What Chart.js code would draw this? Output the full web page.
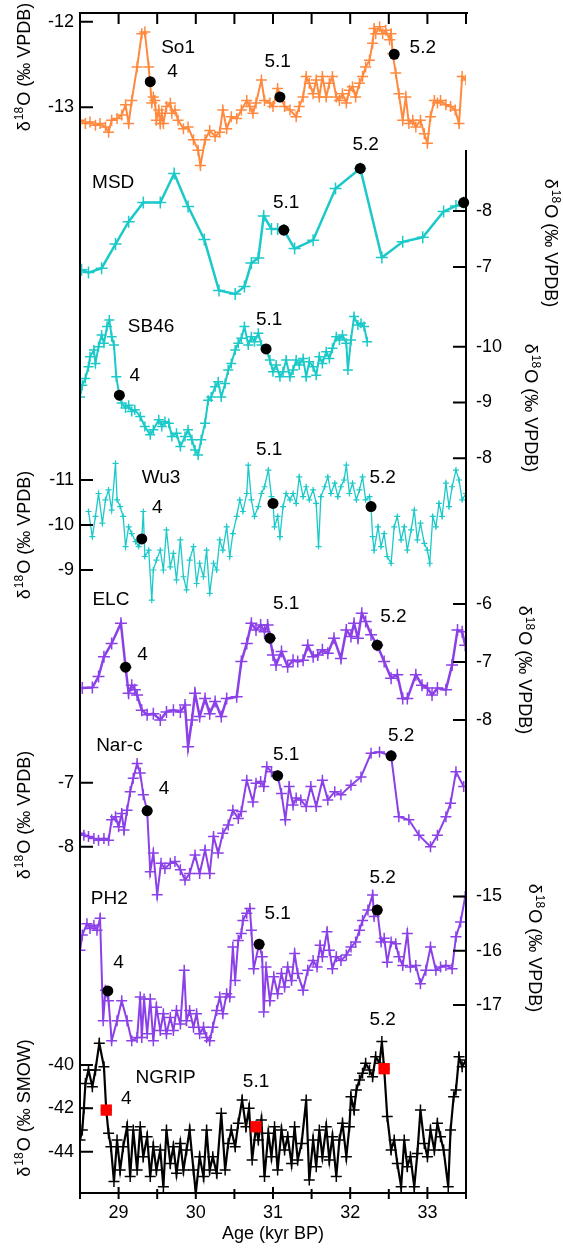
<!DOCTYPE html>
<html>
<head>
<meta charset="utf-8">
<script src="https://cdn.jsdelivr.net/npm/chart.js@4"></script>
<style>
body { margin: 0; background: #fff; }
#wrap { width: 563px; height: 1250px; }
</style>
</head>
<body>
<div id="wrap"><canvas id="chart" width="563" height="1250"></canvas></div>
<script>
// ages in kyr BP, values in per mil
const so1Age = [28.50,28.57,28.63,28.70,28.76,28.83,28.87,28.91,28.98,29.04,29.09,29.13,29.17,29.24,29.30,29.34,29.39,29.43,29.45,29.47,29.49,29.52,29.54,29.56,29.58,29.62,29.67,29.69,29.73,29.77,29.84,29.90,29.97,30.03,30.06,30.12,30.18,30.25,30.31,30.35,30.40,30.46,30.53,30.59,30.66,30.70,30.74,30.78,30.85,30.89,30.96,31.00,31.06,31.15,31.22,31.30,31.34,31.39,31.43,31.47,31.52,31.56,31.60,31.64,31.69,31.73,31.77,31.82,31.86,31.90,31.95,31.99,32.03,32.07,32.12,32.16,32.20,32.25,32.29,32.31,32.33,32.38,32.42,32.46,32.51,32.53,32.55,32.59,32.63,32.68,32.72,32.76,32.81,32.85,32.91,32.96,33.00,33.04,33.09,33.13,33.17,33.24,33.30,33.36,33.41,33.45,33.50];
const so1Val = [-13.15,-13.19,-13.17,-13.21,-13.19,-13.23,-13.29,-13.15,-13.13,-13.09,-12.97,-13.19,-12.92,-12.53,-12.14,-12.12,-12.53,-12.95,-12.88,-12.92,-13.15,-13.03,-13.19,-13.07,-13.19,-12.99,-12.95,-13.07,-13.03,-13.15,-13.25,-13.23,-13.38,-13.50,-13.68,-13.38,-13.27,-13.34,-13.29,-13.03,-13.25,-13.11,-13.13,-13.03,-12.92,-12.99,-13.07,-12.95,-12.68,-12.92,-12.95,-12.99,-12.78,-12.99,-13.03,-13.11,-12.99,-12.88,-12.64,-12.72,-12.84,-12.68,-12.88,-12.64,-12.88,-12.72,-12.64,-12.88,-12.92,-12.84,-12.95,-12.80,-12.76,-12.88,-12.72,-12.64,-12.53,-12.45,-12.25,-12.08,-12.14,-12.06,-12.14,-12.10,-12.21,-12.14,-12.37,-12.60,-12.84,-13.15,-12.88,-13.19,-13.15,-13.23,-13.15,-13.31,-13.42,-13.11,-12.92,-12.95,-12.92,-12.97,-12.99,-13.03,-13.19,-12.64,-12.68];
const so1DotAge = [29.41, 31.09, 32.57];
const so1DotVal = [-12.70, -12.88, -12.38];

const msdAge = [28.52,28.61,28.78,28.96,29.13,29.32,29.54,29.72,29.90,30.11,30.30,30.51,30.63,30.72,30.81,30.88,30.98,31.06,31.14,31.28,31.52,31.81,32.13,32.41,32.68,32.94,33.21,33.37,33.47];
const msdVal = [-6.95,-6.90,-6.98,-7.41,-7.81,-8.15,-8.15,-8.67,-8.08,-7.49,-6.58,-6.52,-6.65,-7.07,-7.16,-7.91,-7.68,-7.68,-7.66,-7.33,-7.48,-8.40,-8.76,-7.17,-7.45,-7.53,-7.99,-8.09,-8.15];
const msdDotAge = [31.14, 32.13, 33.47];
const msdDotVal = [-7.66, -8.76, -8.15];

const sb46Age = [28.50,28.53,28.57,28.61,28.63,28.68,28.70,28.74,28.78,28.81,28.85,28.88,28.91,28.94,28.97,29.01,29.04,29.09,29.13,29.17,29.21,29.28,29.34,29.41,29.45,29.52,29.56,29.60,29.65,29.69,29.75,29.80,29.86,29.90,29.95,29.99,30.03,30.07,30.12,30.16,30.20,30.25,30.29,30.33,30.38,30.42,30.46,30.51,30.55,30.59,30.63,30.68,30.72,30.76,30.81,30.85,30.91,30.96,31.00,31.04,31.09,31.13,31.17,31.22,31.26,31.30,31.34,31.39,31.43,31.47,31.52,31.56,31.60,31.64,31.69,31.73,31.77,31.82,31.86,31.90,31.95,31.97,32.01,32.05,32.10,32.14,32.18,32.22];
const sb46Val = [-9.10,-9.31,-9.43,-9.64,-9.82,-9.94,-9.70,-10.00,-10.21,-10.06,-10.36,-10.48,-10.18,-10.03,-9.46,-9.13,-8.99,-8.90,-8.95,-8.84,-8.87,-8.75,-8.57,-8.42,-8.51,-8.69,-8.57,-8.66,-8.63,-8.39,-8.45,-8.21,-8.39,-8.51,-8.33,-8.15,-8.06,-8.33,-8.63,-9.04,-9.10,-9.28,-9.37,-9.10,-9.34,-9.58,-9.70,-9.94,-10.06,-10.15,-10.36,-10.03,-10.18,-10.09,-10.24,-10.03,-9.96,-9.76,-9.55,-9.67,-9.46,-9.55,-9.76,-9.46,-9.58,-9.76,-9.67,-9.79,-9.46,-9.73,-9.64,-9.49,-9.82,-9.70,-9.91,-9.79,-9.97,-10.18,-10.12,-10.21,-10.06,-9.58,-10.12,-10.54,-10.39,-10.42,-10.36,-10.09];
const sb46DotAge = [29.01, 30.91];
const sb46DotVal = [-9.13, -9.96];

const wu3Age = [28.61,28.66,28.70,28.74,28.79,28.83,28.87,28.91,28.96,28.98,29.02,29.06,29.09,29.13,29.17,29.22,29.26,29.30,29.32,29.34,29.39,29.43,29.45,29.49,29.54,29.58,29.62,29.67,29.71,29.75,29.80,29.84,29.88,29.92,29.97,30.01,30.05,30.10,30.14,30.18,30.23,30.27,30.31,30.35,30.40,30.44,30.48,30.53,30.57,30.61,30.66,30.68,30.72,30.76,30.81,30.85,30.89,30.94,30.98,31.00,31.02,31.06,31.09,31.13,31.17,31.22,31.26,31.30,31.34,31.39,31.43,31.47,31.52,31.56,31.59,31.62,31.67,31.71,31.75,31.80,31.84,31.88,31.92,31.95,31.99,32.03,32.08,32.12,32.16,32.20,32.25,32.27,32.29,32.31,32.36,32.40,32.44,32.48,32.53,32.57,32.61,32.66,32.70,32.74,32.79,32.83,32.87,32.91,32.96,33.00,33.03,33.07,33.11,33.15,33.19,33.24,33.28,33.32,33.37,33.41,33.45,33.50];
const wu3Val = [-10.30,-9.74,-10.19,-10.70,-10.04,-10.56,-10.78,-10.33,-11.37,-10.56,-10.41,-10.19,-9.52,-9.96,-9.81,-9.63,-9.52,-9.69,-10.30,-9.30,-9.44,-8.33,-9.00,-9.22,-9.44,-9.00,-9.89,-9.07,-9.37,-8.78,-9.67,-8.85,-8.56,-9.22,-9.52,-8.70,-9.15,-8.85,-9.44,-8.48,-9.15,-9.00,-9.67,-9.44,-9.96,-9.30,-9.81,-10.19,-10.56,-10.30,-10.70,-11.33,-10.56,-10.19,-10.41,-10.70,-10.85,-11.22,-10.63,-10.48,-9.96,-10.19,-9.74,-10.41,-10.70,-10.56,-10.70,-10.48,-11.07,-10.63,-10.85,-10.56,-10.78,-10.48,-9.52,-10.63,-10.85,-11.07,-10.70,-10.93,-10.63,-10.85,-11.00,-11.33,-10.70,-10.93,-10.56,-10.78,-11.07,-10.56,-10.63,-10.41,-9.74,-9.44,-9.96,-9.52,-9.81,-9.30,-9.15,-9.96,-10.19,-9.67,-9.96,-9.44,-9.89,-10.33,-9.67,-10.04,-9.59,-9.44,-9.15,-10.19,-9.96,-10.48,-10.19,-10.93,-10.41,-10.85,-11.22,-11.00,-10.56,-10.70];
const wu3DotAge = [29.30, 31.00, 32.27];
const wu3DotVal = [-9.69, -10.48, -10.41];

const elcAge = [28.53,28.66,28.74,28.81,28.91,29.03,29.09,29.13,29.17,29.21,29.24,29.30,29.37,29.45,29.54,29.62,29.71,29.80,29.86,29.90,29.95,29.99,30.05,30.12,30.18,30.25,30.33,30.40,30.53,30.59,30.66,30.72,30.78,30.84,30.89,30.93,30.96,31.00,31.04,31.11,31.19,31.26,31.32,31.39,31.45,31.52,31.58,31.64,31.71,31.79,31.88,31.95,32.01,32.05,32.10,32.15,32.20,32.27,32.35,32.44,32.53,32.61,32.68,32.74,32.85,32.93,33.00,33.06,33.13,33.24,33.32,33.39,33.45,33.49];
const elcVal = [-7.45,-7.44,-7.25,-6.91,-6.68,-6.33,-7.09,-7.54,-7.40,-7.48,-7.57,-7.83,-7.91,-7.89,-8.00,-7.86,-7.83,-7.86,-7.74,-8.46,-8.00,-7.54,-7.94,-7.63,-7.89,-7.68,-7.94,-7.63,-7.60,-6.99,-6.68,-6.33,-6.45,-6.36,-6.48,-6.36,-6.59,-6.88,-7.05,-6.82,-7.08,-6.97,-6.99,-6.97,-6.71,-6.91,-6.88,-6.79,-6.85,-6.59,-6.94,-6.45,-6.56,-6.33,-6.59,-6.16,-6.30,-6.53,-6.71,-6.99,-7.28,-7.22,-7.63,-7.63,-7.22,-7.40,-7.45,-7.57,-7.45,-7.48,-7.05,-6.45,-6.48,-6.71];
const elcDotAge = [29.09, 30.96, 32.35];
const elcDotVal = [-7.09, -6.59, -6.71];

const narAge = [28.50,28.55,28.61,28.68,28.74,28.81,28.87,28.91,28.96,29.00,29.04,29.07,29.11,29.15,29.19,29.24,29.28,29.32,29.37,29.41,29.45,29.50,29.55,29.60,29.67,29.73,29.80,29.86,29.92,29.99,30.05,30.12,30.18,30.23,30.29,30.35,30.42,30.48,30.55,30.59,30.66,30.74,30.78,30.84,30.88,30.92,30.98,31.06,31.11,31.16,31.21,31.26,31.30,31.36,31.43,31.49,31.56,31.64,31.71,31.80,31.88,32.01,32.14,32.27,32.38,32.53,32.63,32.76,32.89,33.04,33.13,33.24,33.30,33.37,33.47];
const narVal = [-7.79,-7.82,-7.84,-7.87,-7.90,-7.87,-7.90,-7.58,-7.53,-7.69,-7.48,-7.74,-7.43,-7.14,-6.93,-6.70,-6.85,-7.19,-7.44,-8.39,-8.10,-8.75,-8.26,-8.34,-8.26,-8.23,-8.36,-8.52,-8.42,-8.13,-8.42,-8.05,-8.42,-7.84,-8.10,-7.79,-7.66,-7.43,-7.56,-7.45,-6.96,-7.30,-7.01,-6.98,-7.06,-6.75,-6.83,-6.89,-7.17,-7.58,-7.06,-7.35,-7.24,-7.27,-7.37,-7.06,-7.37,-6.96,-7.27,-7.14,-7.19,-7.04,-6.91,-6.54,-6.52,-6.58,-7.53,-7.58,-7.82,-8.00,-7.82,-7.53,-7.32,-6.83,-7.06];
const narDotAge = [29.37, 31.06, 32.53];
const narDotVal = [-7.44, -6.89, -6.58];

const ph2Age = [28.50,28.53,28.59,28.63,28.68,28.72,28.76,28.80,28.83,28.87,28.91,28.98,29.04,29.11,29.17,29.24,29.28,29.30,29.33,29.37,29.41,29.45,29.49,29.54,29.58,29.62,29.67,29.71,29.75,29.80,29.85,29.88,29.92,29.97,30.01,30.05,30.10,30.14,30.18,30.22,30.27,30.31,30.35,30.40,30.44,30.48,30.51,30.55,30.59,30.61,30.66,30.70,30.72,30.75,30.82,30.86,30.88,30.91,30.96,31.01,31.06,31.11,31.15,31.19,31.24,31.28,31.32,31.39,31.45,31.52,31.57,31.61,31.64,31.70,31.73,31.77,31.82,31.88,31.95,32.01,32.07,32.12,32.16,32.23,32.29,32.31,32.35,32.40,32.44,32.48,32.53,32.59,32.63,32.68,32.74,32.78,32.85,32.91,32.98,33.04,33.11,33.17,33.24,33.32,33.37,33.43,33.49];
const ph2Val = [-15.99,-15.71,-15.50,-15.59,-15.53,-15.62,-15.40,-17.29,-16.73,-16.92,-17.66,-17.29,-16.92,-17.29,-17.66,-17.60,-16.85,-17.60,-16.89,-17.53,-16.89,-17.66,-17.04,-17.47,-17.16,-17.53,-17.23,-17.47,-17.10,-17.35,-16.36,-17.29,-17.10,-17.41,-17.16,-17.53,-17.41,-17.60,-17.66,-17.41,-17.10,-16.85,-17.16,-16.79,-16.85,-15.93,-16.55,-15.81,-15.68,-15.44,-15.31,-15.22,-15.62,-16.33,-15.88,-16.11,-17.13,-16.30,-16.92,-16.48,-16.79,-16.42,-16.67,-16.30,-16.55,-16.05,-16.42,-16.73,-16.36,-16.18,-16.30,-15.90,-16.11,-15.65,-15.99,-16.33,-16.11,-16.18,-16.08,-15.93,-15.84,-15.62,-15.44,-15.25,-14.97,-15.37,-15.25,-15.84,-15.77,-16.21,-15.84,-15.87,-16.11,-16.27,-15.68,-16.30,-16.27,-16.61,-16.36,-15.93,-16.36,-16.30,-16.27,-16.33,-15.74,-15.47,-15.00];
const ph2DotAge = [28.86, 30.82, 32.35];
const ph2DotVal = [-16.74, -15.88, -15.25];

const ngripAge = [28.50,28.53,28.55,28.57,28.61,28.66,28.70,28.75,28.81,28.84,28.87,28.90,28.94,28.98,29.02,29.06,29.11,29.15,29.19,29.24,29.28,29.32,29.37,29.41,29.45,29.49,29.54,29.58,29.62,29.67,29.71,29.75,29.80,29.84,29.88,29.92,29.97,30.00,30.05,30.10,30.14,30.18,30.22,30.27,30.33,30.38,30.42,30.46,30.51,30.55,30.60,30.65,30.69,30.73,30.78,30.81,30.85,30.89,30.94,30.98,31.02,31.06,31.11,31.15,31.19,31.24,31.28,31.32,31.37,31.43,31.47,31.52,31.56,31.60,31.64,31.69,31.73,31.77,31.82,31.86,31.90,31.95,31.99,32.01,32.05,32.08,32.12,32.16,32.20,32.25,32.29,32.33,32.38,32.41,32.44,32.48,32.53,32.57,32.61,32.66,32.70,32.74,32.78,32.83,32.87,32.91,32.96,33.00,33.04,33.09,33.13,33.17,33.21,33.27,33.30,33.34,33.37,33.41,33.45,33.50];
const ngripVal = [-43.46,-43.00,-42.00,-40.85,-40.23,-41.00,-40.23,-39.00,-40.08,-42.08,-43.15,-43.77,-45.38,-43.46,-44.85,-43.77,-42.85,-45.15,-43.00,-44.85,-42.85,-44.23,-43.31,-45.15,-43.77,-44.85,-43.92,-45.62,-43.00,-44.54,-43.77,-45.00,-43.62,-44.85,-43.92,-43.00,-44.85,-45.92,-44.23,-45.15,-43.00,-44.85,-44.23,-45.00,-42.23,-44.85,-43.62,-43.00,-43.77,-42.69,-41.62,-42.85,-42.00,-44.38,-42.85,-43.46,-42.54,-45.15,-43.15,-44.23,-42.85,-44.85,-43.00,-43.92,-43.31,-44.54,-42.85,-44.38,-43.62,-41.62,-45.31,-43.46,-44.69,-43.00,-44.23,-42.85,-44.38,-43.31,-45.15,-43.46,-42.69,-44.23,-42.85,-41.46,-42.08,-41.15,-40.69,-40.38,-39.92,-40.23,-40.54,-39.62,-39.92,-38.92,-40.17,-42.38,-43.92,-43.46,-44.54,-45.62,-43.46,-44.69,-44.23,-45.62,-44.08,-42.08,-43.62,-44.23,-43.00,-43.92,-42.69,-43.31,-43.92,-45.62,-43.00,-41.46,-41.15,-39.62,-40.08,-39.77];
const ngripSqAge = [28.84, 30.78, 32.44];
const ngripSqVal = [-42.08, -42.85, -40.17];

// x axis ticks
const ageTicks = [29, 30, 31, 32, 33];

// event labels: [text, age, value] on each record's own axis
const so1Labels = [['So1', 29.77, -12.30], ['4', 29.70, -12.58], ['5.1', 31.06, -12.47], ['5.2', 32.94, -12.30]];
const msdLabels = [['MSD', 28.93, -8.51], ['5.1', 31.17, -8.14], ['5.2', 32.20, -9.18]];
const sb46Labels = [['SB46', 29.42, -10.36], ['4', 29.21, -9.47], ['5.1', 30.95, -10.49]];
const wu3Labels = [['Wu3', 29.55, -11.04], ['4', 29.50, -10.39], ['5.1', 30.95, -11.67], ['5.2', 32.42, -11.04]];
const elcLabels = [['ELC', 28.90, -5.93], ['4', 29.31, -6.88], ['5.1', 31.17, -5.99], ['5.2', 32.56, -6.22]];
const narLabels = [['Nar-c', 29.01, -6.43], ['4', 29.59, -7.09], ['5.1', 31.17, -6.57], ['5.2', 32.66, -6.27]];
const ph2Labels = [['PH2', 28.88, -15.05], ['4', 29.00, -16.23], ['5.1', 31.06, -15.31], ['5.2', 32.42, -14.65]];
const ngripLabels = [['NGRIP', 29.61, -40.57], ['4', 29.10, -41.54], ['5.1', 30.78, -40.77], ['5.2', 32.42, -37.92]];

const FONT = '"Liberation Sans", Arial, Helvetica, sans-serif';
const ORANGE = '#ff8a3f';
const CYAN = '#1cc9c9';
const PURPLE = '#8b40e8';

function pts(ages, vals) {
  return ages.map(function (a, i) { return { x: a, y: vals[i] }; });
}

function series(ages, vals, axis, color, width, radius) {
  return {
    data: pts(ages, vals),
    yAxisID: axis,
    order: 2,
    showLine: true,
    borderColor: color,
    backgroundColor: color,
    borderWidth: width,
    pointStyle: 'cross',
    pointRadius: radius,
    pointBorderWidth: width > 1.4 ? 1.5 : 1.2,
    pointBorderColor: color,
    tension: 0
  };
}

// black event dots (red squares for NGRIP), drawn above the lines
function dots(ages, vals, axis, style, color, radius) {
  return {
    data: pts(ages, vals),
    yAxisID: axis,
    order: 1,
    showLine: false,
    pointStyle: style,
    pointRadius: radius,
    pointBackgroundColor: color,
    pointBorderColor: color,
    pointBorderWidth: 0,
    clip: false
  };
}

// one entry per record: axis, side of its ticks, tick values, title position
const panels = [
  { axis: 'ySo1', side: 'left', ticks: [-12, -13], unit: 'VPDB', tx: 24, ty: 67, labels: so1Labels },
  { axis: 'yMSD', side: 'right', ticks: [-8, -7], unit: 'VPDB', tx: 551, ty: 243, labels: msdLabels },
  { axis: 'ySB46', side: 'right', ticks: [-10, -9, -8], unit: 'VPDB', tx: 531, ty: 408, labels: sb46Labels },
  { axis: 'yWu3', side: 'left', ticks: [-11, -10, -9], unit: 'VPDB', tx: 24, ty: 535, labels: wu3Labels },
  { axis: 'yELC', side: 'right', ticks: [-6, -7, -8], unit: 'VPDB', tx: 525, ty: 670, labels: elcLabels },
  { axis: 'yNar', side: 'left', ticks: [-7, -8], unit: 'VPDB', tx: 24, ty: 815, labels: narLabels },
  { axis: 'yPH2', side: 'right', ticks: [-15, -16, -17], unit: 'VPDB', tx: 535, ty: 948, labels: ph2Labels },
  { axis: 'yNG', side: 'left', ticks: [-40, -42, -44], unit: 'SMOW', tx: 24, ty: 1108, labels: ngripLabels }
];

function drawTitle(ctx, unit, x, y, angle) {
  var rest = 'O (\u2030 ' + unit + ')';
  ctx.save();
  ctx.translate(x, y);
  ctx.rotate(angle);
  ctx.font = '18px ' + FONT;
  var w1 = ctx.measureText('\u03b4').width;
  var w3 = ctx.measureText(rest).width;
  ctx.font = '12px ' + FONT;
  var w2 = ctx.measureText('18').width;
  var start = -(w1 + w2 + w3 + 2) / 2;
  ctx.textAlign = 'left';
  ctx.textBaseline = 'alphabetic';
  ctx.fillStyle = '#000';
  ctx.font = '18px ' + FONT;
  ctx.fillText('\u03b4', start, 6);
  ctx.font = '12px ' + FONT;
  ctx.fillText('18', start + w1 + 1, -1);
  ctx.font = '18px ' + FONT;
  ctx.fillText(rest, start + w1 + w2 + 2, 6);
  ctx.restore();
}

// frame, ticks, titles and event labels
const panelAxes = {
  id: 'panelAxes',
  afterDraw: function (chart) {
    var ctx = chart.ctx, xs = chart.scales.x, area = chart.chartArea;
    ctx.save();
    ctx.strokeStyle = '#000';
    ctx.fillStyle = '#000';
    ctx.lineWidth = 2;
    ctx.lineCap = 'butt';

    ctx.beginPath();
    ctx.moveTo(area.left, area.top);
    ctx.lineTo(area.right + 2, area.top);
    ctx.moveTo(area.left, area.top - 1);
    ctx.lineTo(area.left, area.bottom);
    ctx.lineTo(area.right, area.bottom);
    ctx.moveTo(area.right, 150);
    ctx.lineTo(area.right, area.bottom);
    ctx.stroke();

    // top and bottom age ticks every 0.5 kyr
    ctx.beginPath();
    for (var a = 28.5; a <= 33.5001; a += 0.5) {
      var px = xs.getPixelForValue(a);
      ctx.moveTo(px, area.top);
      ctx.lineTo(px, area.top + 11);
      var major = Math.abs(a - Math.round(a)) < 0.01;
      ctx.moveTo(px, area.bottom - (major ? 6 : 4));
      ctx.lineTo(px, area.bottom + 6);
    }
    ctx.stroke();

    ctx.font = '18px ' + FONT;
    ctx.textAlign = 'center';
    ctx.textBaseline = 'middle';
    ageTicks.forEach(function (t) {
      ctx.fillText(String(t), xs.getPixelForValue(t), area.bottom + 20);
    });
    ctx.fillText('Age (kyr BP)', (area.left + area.right) / 2, area.bottom + 41);

    panels.forEach(function (p) {
      var ys = chart.scales[p.axis];
      ctx.beginPath();
      p.ticks.forEach(function (t) {
        var py = ys.getPixelForValue(t);
        if (p.side === 'left') {
          ctx.moveTo(area.left, py);
          ctx.lineTo(area.left + 13, py);
        } else {
          ctx.moveTo(area.right, py);
          ctx.lineTo(area.right - 13, py);
        }
      });
      ctx.stroke();
      ctx.font = '18px ' + FONT;
      ctx.textBaseline = 'middle';
      ctx.textAlign = p.side === 'left' ? 'right' : 'left';
      p.ticks.forEach(function (t) {
        var py = ys.getPixelForValue(t);
        var tx = p.side === 'left' ? area.left - 6 : area.right + 10;
        ctx.fillText(String(t), tx, py);
      });
      drawTitle(ctx, p.unit, p.tx, p.ty, p.side === 'left' ? -Math.PI / 2 : Math.PI / 2);

      ctx.font = '19px ' + FONT;
      ctx.textAlign = 'center';
      ctx.fillStyle = '#000';
      p.labels.forEach(function (l) {
        ctx.fillText(l[0], xs.getPixelForValue(l[1]), ys.getPixelForValue(l[2]));
      });
    });
    ctx.restore();
  }
};

const datasets = [
  series(so1Age, so1Val, 'ySo1', ORANGE, 2, 5.5),
  series(msdAge, msdVal, 'yMSD', CYAN, 2.5, 6),
  series(sb46Age, sb46Val, 'ySB46', CYAN, 2, 5),
  series(wu3Age, wu3Val, 'yWu3', CYAN, 1.3, 3),
  series(elcAge, elcVal, 'yELC', PURPLE, 2.5, 6),
  series(narAge, narVal, 'yNar', PURPLE, 2, 5.5),
  series(ph2Age, ph2Val, 'yPH2', PURPLE, 2, 5.5),
  series(ngripAge, ngripVal, 'yNG', '#000', 2.2, 5.5),
  dots(so1DotAge, so1DotVal, 'ySo1', 'circle', '#000', 5.5),
  dots(msdDotAge, msdDotVal, 'yMSD', 'circle', '#000', 5.5),
  dots(sb46DotAge, sb46DotVal, 'ySB46', 'circle', '#000', 5.5),
  dots(wu3DotAge, wu3DotVal, 'yWu3', 'circle', '#000', 5.5),
  dots(elcDotAge, elcDotVal, 'yELC', 'circle', '#000', 5.5),
  dots(narDotAge, narDotVal, 'yNar', 'circle', '#000', 5.5),
  dots(ph2DotAge, ph2DotVal, 'yPH2', 'circle', '#000', 5.5),
  dots(ngripSqAge, ngripSqVal, 'yNG', 'rect', '#ff0000', 8)
];

new Chart(document.getElementById('chart'), {
  type: 'scatter',
  data: { datasets: datasets },
  options: {
    responsive: false,
    animation: false,
    layout: { padding: { left: 80, right: 97, top: 13, bottom: 57 } },
    plugins: { legend: { display: false }, tooltip: { enabled: false } },
    scales: {
      x: { type: 'linear', min: 28.5, max: 33.5, display: false },
      ySo1: { type: 'linear', min: -25.683, max: -11.898, display: false },
      yMSD: { type: 'linear', min: -11.536, max: 9.536, reverse: true, display: false },
      ySB46: { type: 'linear', min: -15.980, max: 5.167, reverse: true, display: false },
      yWu3: { type: 'linear', min: -21.378, max: 4.844, reverse: true, display: false },
      yELC: { type: 'linear', min: -16.155, max: 4.190, display: false },
      yNar: { type: 'linear', min: -13.411, max: 5.027, display: false },
      yPH2: { type: 'linear', min: -20.465, max: 1.286, display: false },
      yNG: { type: 'linear', min: -45.906, max: 8.547, display: false }
    }
  },
  plugins: [panelAxes]
});
</script>
</body>
</html>
